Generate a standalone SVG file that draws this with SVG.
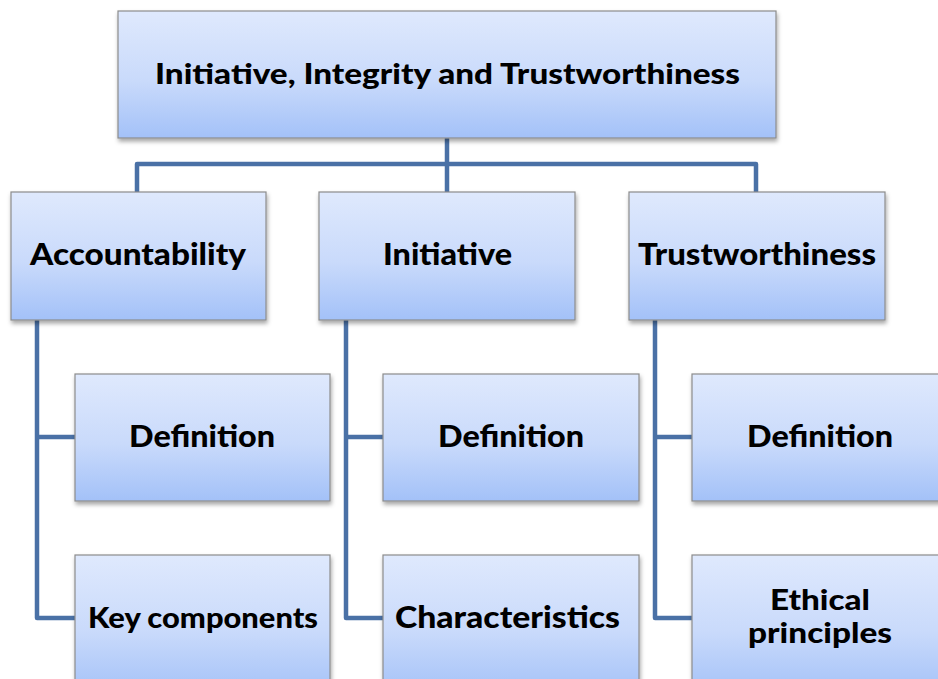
<svg xmlns="http://www.w3.org/2000/svg" width="938" height="679" viewBox="0 0 938 679">
<defs>
<linearGradient id="g" x1="0" y1="0" x2="0" y2="1">
<stop offset="0" stop-color="#dfe9fd"/>
<stop offset="0.55" stop-color="#c9dafb"/>
<stop offset="1" stop-color="#a3c1f8"/>
</linearGradient>
<filter id="sh" x="-5%" y="-5%" width="115%" height="125%">
<feDropShadow dx="1" dy="3" stdDeviation="2" flood-color="#000" flood-opacity="0.35"/>
</filter>
</defs>
<style>
.box{fill:url(#g);stroke:#8c8c8c;stroke-width:1.2;filter:url(#sh)}
.t{font-family:Lato,"Open Sans","DejaVu Sans",sans-serif;font-weight:900;fill:#000;text-anchor:middle}
.c{fill:none;stroke:#4a71a6;stroke-width:4.5;stroke-linejoin:round}
</style>
<rect width="938" height="679" fill="#fff"/>
<g id="connectors">
<path class="c" d="M447 138 V164 M137 192 V164 H756 V192 M447 164 V192"/>
<path class="c" d="M37 320 V618 H76 M37 437 H76"/>
<path class="c" d="M346 320 V618 H384 M346 437 H384"/>
<path class="c" d="M655 320 V618 H693 M655 437 H693"/>
</g>
<g id="root"><rect class="box" x="118" y="11" width="658" height="127"/><text class="t" x="447.5" y="84" font-size="29" textLength="585" lengthAdjust="spacingAndGlyphs">Initiative, Integrity and Trustworthiness</text></g>
<g id="accountability"><rect class="box" x="11" y="192" width="255" height="128"/><text class="t" x="138" y="265" font-size="31" textLength="216" lengthAdjust="spacingAndGlyphs">Accountability</text></g>
<g id="initiative"><rect class="box" x="319" y="192" width="256" height="128"/><text class="t" x="447.5" y="265" font-size="31" textLength="129" lengthAdjust="spacingAndGlyphs">Initiative</text></g>
<g id="trustworthiness"><rect class="box" x="629" y="192" width="256" height="128"/><text class="t" x="757" y="265" font-size="31" textLength="238" lengthAdjust="spacingAndGlyphs">Trustworthiness</text></g>
<g id="acc-definition"><rect class="box" x="75" y="374" width="255" height="127"/><text class="t" x="202" y="447" font-size="31" textLength="146" lengthAdjust="spacingAndGlyphs">Definition</text></g>
<g id="acc-key"><rect class="box" x="75" y="555" width="255" height="140"/><text class="t" x="203" y="628" font-size="28" textLength="230" lengthAdjust="spacingAndGlyphs">Key components</text></g>
<g id="ini-definition"><rect class="box" x="383" y="374" width="256" height="127"/><text class="t" x="511" y="447" font-size="31" textLength="146" lengthAdjust="spacingAndGlyphs">Definition</text></g>
<g id="ini-char"><rect class="box" x="383" y="555" width="256" height="140"/><text class="t" x="507.5" y="628" font-size="31" textLength="225" lengthAdjust="spacingAndGlyphs">Characteristics</text></g>
<g id="tru-definition"><rect class="box" x="692" y="374" width="256" height="127"/><text class="t" x="820" y="447" font-size="31" textLength="146" lengthAdjust="spacingAndGlyphs">Definition</text></g>
<g id="tru-ethical"><rect class="box" x="692" y="555" width="256" height="140"/><text class="t" x="820" y="610" font-size="28" textLength="100" lengthAdjust="spacingAndGlyphs">Ethical</text><text class="t" x="820" y="643" font-size="28" textLength="144" lengthAdjust="spacingAndGlyphs">principles</text></g>
</svg>
